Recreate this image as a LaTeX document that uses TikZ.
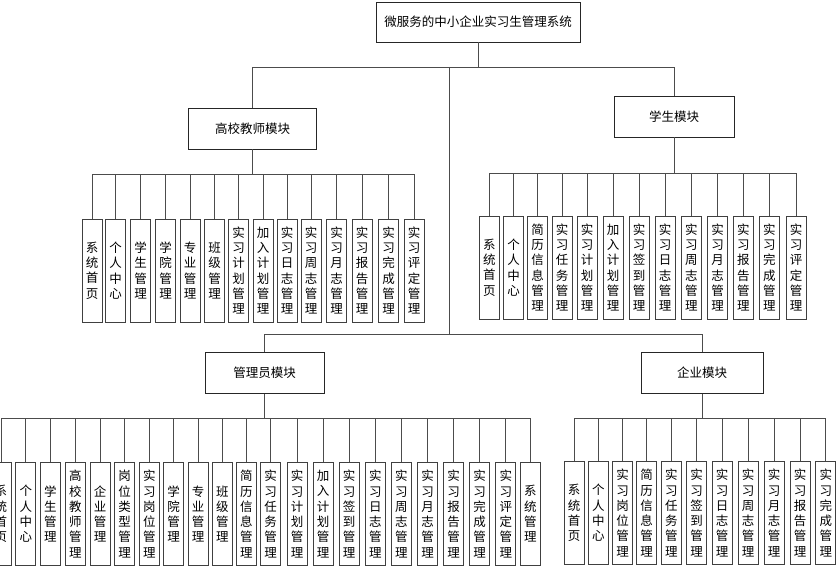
\documentclass[tikz,border=0pt]{standalone}
\usepackage{fontspec}
\setmainfont{Noto Sans CJK SC}
\XeTeXlinebreaklocale "zh"
\XeTeXlinebreakskip = 0pt plus 1pt

\tikzset{
  modbox/.style={draw=black!85, line width=0.8pt, minimum height=41pt, inner sep=0pt,
    font=\fontsize{12.5}{15}\selectfont},
  itembox/.style={draw=black!75, line width=1pt, text width=14pt, inner xsep=3pt,
    inner ysep=0pt, minimum height=103pt, align=center,
    font=\fontsize{12.5}{15.3}\selectfont},
  link/.style={-, draw=black!70, line width=0.8pt},
}

\begin{document}
\begin{tikzpicture}[x=1pt, y=-1pt]
				\useasboundingbox (0,0) rectangle (840,572);
				
				% top and module boxes
				\node[modbox, minimum width=204pt, minimum height=40pt] (root) at (478,22) {微服务的中小企业实习生管理系统};
				\node[modbox, minimum width=128pt] (tch) at (252.5,128.5) {高校教师模块};
				\node[modbox, minimum width=120pt] (stu) at (674,116.5) {学生模块};
				\node[modbox, minimum width=119pt] (adm) at (264.5,373) {管理员模块};
				\node[modbox, minimum width=122pt] (ent) at (702,373) {企业模块};
				
				\coordinate (lvl1) at (0,67);
				\coordinate (trunk) at (449,67);
				\coordinate (lvl2) at (0,334);
				\coordinate (tbus) at (0,174);
				\coordinate (sbus) at (0,173.5);
				\coordinate (abus) at (0,418.3);
				\coordinate (ebus) at (0,418.3);
				
				\draw[link] (root.south) -- (root.south |- lvl1);
				\draw[link] (tch.north |- lvl1) -- (stu.north |- lvl1);
				\draw[link] (tch.north) -- (tch.north |- lvl1);
				\draw[link] (stu.north) -- (stu.north |- lvl1);
				\draw[link] (trunk) -- (trunk |- lvl2);
				\draw[link] (adm.north |- lvl2) -- (ent.north |- lvl2);
				\draw[link] (adm.north) -- (adm.north |- lvl2);
				\draw[link] (ent.north) -- (ent.north |- lvl2);
				
				% teacher
				\foreach \x/\t [count=\i] in {92/系统首页, 115.5/个人中心, 140.5/学生管理, 165.5/学院管理, 190/专业管理, 214.5/班级管理, 238.5/实习计划管理, 263/加入计划管理, 287/实习日志管理, 311/实习周志管理, 336.5/实习月志管理, 362/实习报告管理, 388.5/实习完成管理, 414/实习评定管理} {
					\node[itembox] (t\i) at (\x,270.5) {\t};
					\draw[link] (t\i.north) -- (t\i.north |- tbus);
				}
				\draw[link] (tch.south) -- (tch.south |- tbus);
				\draw[link] (t1.north |- tbus) -- (t14.north |- tbus);
				
				% student
				\foreach \x/\t [count=\i] in {489.3/系统首页, 513.7/个人中心, 537.5/简历信息管理, 562/实习任务管理, 587/实习计划管理, 613/加入计划管理, 639/实习签到管理, 665/实习日志管理, 691.3/实习周志管理, 717.5/实习月志管理, 743.3/实习报告管理, 769.3/实习完成管理, 796/实习评定管理} {
					\node[itembox] (s\i) at (\x,267.5) {\t};
					\draw[link] (s\i.north) -- (s\i.north |- sbus);
				}
				\draw[link] (stu.south) -- (stu.south |- sbus);
				\draw[link] (s1.north |- sbus) -- (s13.north |- sbus);
				
				% admin
				\foreach \x/\t [count=\i] in {1/系统首页, 25.8/个人中心, 50.3/学生管理, 75.3/高校教师管理, 100/企业管理, 124.7/岗位类型管理, 149.3/实习岗位管理, 173.7/学院管理, 198/专业管理, 222.3/班级管理, 246.3/简历信息管理, 270.5/实习任务管理, 297/实习计划管理, 323/加入计划管理, 349.2/实习签到管理, 375.3/实习日志管理, 401.3/实习周志管理, 427.5/实习月志管理, 453.7/实习报告管理, 479.7/实习完成管理, 505.8/实习评定管理, 530.3/系统管理} {
					\node[itembox] (a\i) at (\x,514) {\t};
					\draw[link] (a\i.north) -- (a\i.north |- abus);
				}
				\draw[link] (adm.south) -- (adm.south |- abus);
				\draw[link] (a1.north |- abus) -- (a22.north |- abus);
				
				% enterprise
				\foreach \x/\t [count=\i] in {574.2/系统首页, 598.3/个人中心, 622.5/实习岗位管理, 646.7/简历信息管理, 671.3/实习任务管理, 696.7/实习签到管理, 722/实习日志管理, 748/实习周志管理, 774/实习月志管理, 800/实习报告管理, 825.8/实习完成管理} {
					\node[itembox] (e\i) at (\x,513) {\t};
					\draw[link] (e\i.north) -- (e\i.north |- ebus);
				}
				\draw[link] (ent.south) -- (ent.south |- ebus);
				\draw[link] (e1.north |- ebus) -- (e11.north |- ebus);
				
\end{tikzpicture}
\end{document}
